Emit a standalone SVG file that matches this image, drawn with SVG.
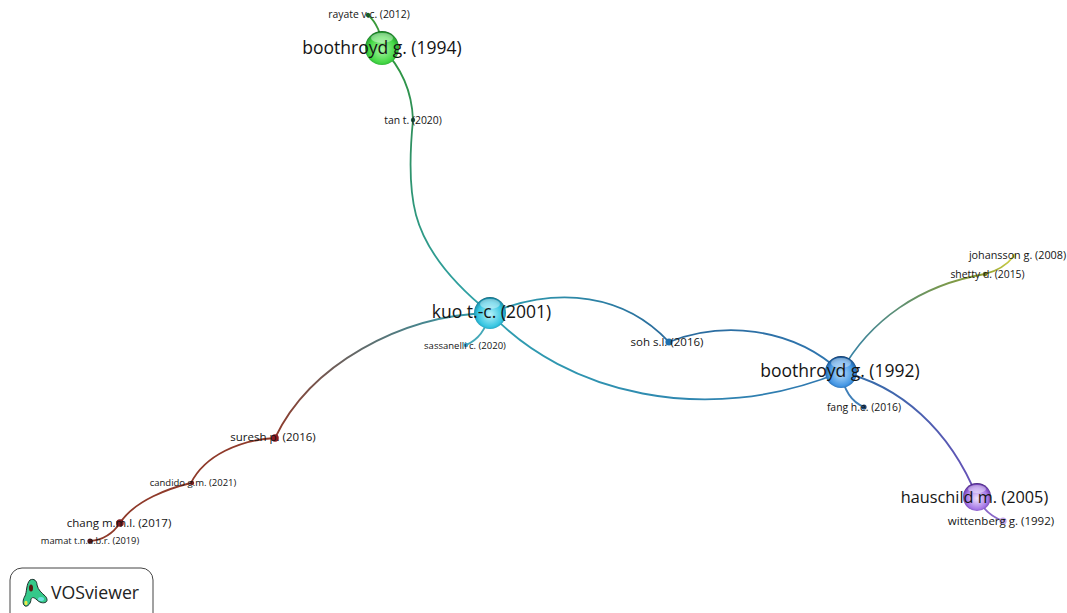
<svg xmlns="http://www.w3.org/2000/svg" width="1067" height="613" viewBox="0 0 1067 613">
<style>
text{font-family:"Open Sans","Liberation Sans",sans-serif;fill:#141414;text-anchor:middle}
.l{font-size:17.5px}.h{font-size:16.3px}.m{font-size:12px}.n{font-size:11.5px}.s{font-size:10.4px}.t{font-size:9.5px}
#connectors path{fill:none;stroke-width:1.8;stroke-linecap:round}
.hl{fill:#fff;fill-opacity:.4}
</style>
<defs>
<radialGradient id="gG" cx=".5" cy=".55" r=".55"><stop offset="0" stop-color="#a8f5a4"/><stop offset=".7" stop-color="#45d845"/><stop offset=".9" stop-color="#2aa635"/><stop offset="1" stop-color="#10601c"/></radialGradient>
<radialGradient id="gC" cx=".5" cy=".55" r=".55"><stop offset="0" stop-color="#b8f2fa"/><stop offset=".7" stop-color="#38c6e2"/><stop offset=".9" stop-color="#1e98b4"/><stop offset="1" stop-color="#0c5f75"/></radialGradient>
<radialGradient id="gB" cx=".5" cy=".55" r=".55"><stop offset="0" stop-color="#b5dcfa"/><stop offset=".7" stop-color="#4496e4"/><stop offset=".9" stop-color="#2268ac"/><stop offset="1" stop-color="#0c2f5c"/></radialGradient>
<radialGradient id="gP" cx=".5" cy=".55" r=".55"><stop offset="0" stop-color="#efe2fc"/><stop offset=".7" stop-color="#a678e6"/><stop offset=".9" stop-color="#7445b8"/><stop offset="1" stop-color="#3c1c70"/></radialGradient>
<linearGradient id="e1" gradientUnits="userSpaceOnUse" x1="382" y1="48" x2="413" y2="120"><stop offset="0" stop-color="#2f9a3a"/><stop offset="1" stop-color="#2f8f5a"/></linearGradient>
<linearGradient id="e2" gradientUnits="userSpaceOnUse" x1="413" y1="120" x2="490" y2="313"><stop offset="0" stop-color="#2f8f5a"/><stop offset="1" stop-color="#2fa3ad"/></linearGradient>
<linearGradient id="e3" gradientUnits="userSpaceOnUse" x1="490" y1="313" x2="669" y2="342"><stop offset="0" stop-color="#2f9fb0"/><stop offset="1" stop-color="#2a6a9c"/></linearGradient>
<linearGradient id="e4" gradientUnits="userSpaceOnUse" x1="669" y1="342" x2="841" y2="372"><stop offset="0" stop-color="#2a6a9c"/><stop offset="1" stop-color="#2f76b0"/></linearGradient>
<linearGradient id="e5" gradientUnits="userSpaceOnUse" x1="490" y1="313" x2="841" y2="372"><stop offset="0" stop-color="#2f9fb0"/><stop offset="1" stop-color="#2f76b0"/></linearGradient>
<linearGradient id="e6" gradientUnits="userSpaceOnUse" x1="841" y1="372" x2="985" y2="274"><stop offset="0" stop-color="#2f80b0"/><stop offset="1" stop-color="#8f9f30"/></linearGradient>
<linearGradient id="e7" gradientUnits="userSpaceOnUse" x1="985" y1="274" x2="1014" y2="256"><stop offset="0" stop-color="#8f9f30"/><stop offset="1" stop-color="#d6d64a"/></linearGradient>
<linearGradient id="e8" gradientUnits="userSpaceOnUse" x1="841" y1="372" x2="977" y2="497"><stop offset="0" stop-color="#2f6fa8"/><stop offset="1" stop-color="#6a4fb8"/></linearGradient>
<linearGradient id="e9" gradientUnits="userSpaceOnUse" x1="490" y1="313" x2="275" y2="438"><stop offset="0" stop-color="#2f9fb0"/><stop offset="1" stop-color="#8f3a2a"/></linearGradient>
</defs>
<rect width="1067" height="613" fill="#fff"/>
<g id="connectors">
<path d="M382 48C382 34 376 22 368 15" stroke="#3a9a3a"/>
<path d="M382 48C402 68 412 92 413 120" stroke="url(#e1)"/>
<path d="M413 120C410 150 408 185 416 215C426 252 455 285 490 313" stroke="url(#e2)"/>
<path d="M490 313C486 330 478 340 466 345" stroke="#45a8b8"/>
<path d="M490 313C560 285 625 295 669 342" stroke="url(#e3)"/>
<path d="M669 342C720 322 790 325 841 372" stroke="url(#e4)"/>
<path d="M490 313C565 393 705 428 841 372" stroke="url(#e5)"/>
<path d="M841 372C870 320 920 285 985 274" stroke="url(#e6)"/>
<path d="M985 274C997 271 1006 266 1014 256" stroke="url(#e7)"/>
<path d="M841 372C900 385 950 430 977 497" stroke="url(#e8)"/>
<path d="M977 497C983 510 992 517 1003 521" stroke="#8a68c8"/>
<path d="M841 372C844 392 852 402 864 407" stroke="#3f7fb8"/>
<path d="M490 313C400 315 310 365 275 438" stroke="url(#e9)"/>
<path d="M275 438C240 440 205 455 191 483" stroke="#8f3a2a"/>
<path d="M191 483C170 488 135 500 120 523" stroke="#8f3a2a"/>
<path d="M120 523C112 535 102 540 90 541" stroke="#8f3a2a"/>
</g>
<g id="n-boothroyd-1994"><circle cx="382" cy="48" r="17" fill="url(#gG)"/><ellipse class="hl" cx="382" cy="38" rx="11" ry="5"/><text class="l" x="382" y="54">boothroyd g. (1994)</text></g>
<g id="n-rayate"><circle cx="368" cy="15" r="2.2" fill="#1b5e25"/><text class="s" x="369" y="18">rayate v.c. (2012)</text></g>
<g id="n-tan"><circle cx="413" cy="120" r="2.2" fill="#1c5c48"/><text class="s" x="413" y="124">tan t. (2020)</text></g>
<g id="n-kuo"><circle cx="490" cy="313" r="16" fill="url(#gC)"/><ellipse class="hl" cx="490" cy="304" rx="10" ry="5"/><text class="l" x="491.500" y="318">kuo t.-c. (2001)</text></g>
<g id="n-sassanelli"><circle cx="466" cy="345" r="2.2" fill="#3b9fc4"/><text class="t" x="465" y="349">sassanelli c. (2020)</text></g>
<g id="n-soh"><circle cx="669" cy="342" r="3.6" fill="#1f6fae"/><text class="n" x="667" y="346">soh s.l. (2016)</text></g>
<g id="n-boothroyd-1992"><circle cx="841" cy="372" r="16" fill="url(#gB)"/><ellipse class="hl" cx="841" cy="363" rx="10" ry="5"/><text class="l" x="840" y="377">boothroyd g. (1992)</text></g>
<g id="n-fang"><circle cx="864" cy="407" r="2.6" fill="#1c4a78"/><text class="s" x="864" y="411">fang h.e. (2016)</text></g>
<g id="n-shetty"><circle cx="985" cy="274" r="2.2" fill="#6f7a20"/><text class="s" x="987.500" y="278">shetty d. (2015)</text></g>
<g id="n-johansson"><circle cx="1014" cy="256" r="2.2" fill="#d9d65a"/><text class="s" x="1017.500" y="259" style="font-size:10.8px">johansson g. (2008)</text></g>
<g id="n-hauschild"><circle cx="977" cy="497" r="14" fill="url(#gP)"/><ellipse class="hl" cx="977" cy="489" rx="9" ry="4"/><text class="h" x="974.500" y="503">hauschild m. (2005)</text></g>
<g id="n-wittenberg"><circle cx="1003" cy="521" r="3.6" fill="#c3a8ea"/><text class="n" x="1001" y="525">wittenberg g. (1992)</text></g>
<g id="n-suresh"><circle cx="275" cy="438" r="3.8" fill="#8c1a22"/><text class="n" x="273" y="441">suresh p. (2016)</text></g>
<g id="n-candido"><circle cx="192" cy="483" r="2.2" fill="#7a2020"/><text class="t" x="193" y="486">candido g.m. (2021)</text></g>
<g id="n-chang"><circle cx="120" cy="523" r="3.8" fill="#7a1a20"/><text class="n" x="119" y="527">chang m.m.l. (2017)</text></g>
<g id="n-mamat"><circle cx="90" cy="541" r="2.6" fill="#5a1a1a"/><text class="t" x="90" y="544" style="font-size:9.3px">mamat t.n.a.b.r. (2019)</text></g>
<g id="logo">
<rect x="10" y="568" width="143" height="60" rx="12" fill="#fff" stroke="#444" stroke-width="1"/>
<path d="M30 580C34 578 37 581 37 585C38 590 42 593 44 595C47 597 48 601 46 602C43 604 39 602 37 600C34 597 32 597 31 599C31 603 28 607 25 606C22 604 23 599 25 596C27 592 26 584 30 580Z" fill="#35c98a" stroke="#1a2e2a" stroke-width="1"/>
<ellipse cx="31" cy="588" rx="2" ry="3.5" fill="#5a1810"/>
<ellipse cx="41" cy="599" rx="3" ry="2" fill="#6fe0e0"/>
<ellipse cx="26" cy="603" rx="1.6" ry="2.2" fill="#ece64a"/>
<text x="95" y="599" style="font-size:17.700px;fill:#222">VOSviewer</text>
</g>
</svg>
